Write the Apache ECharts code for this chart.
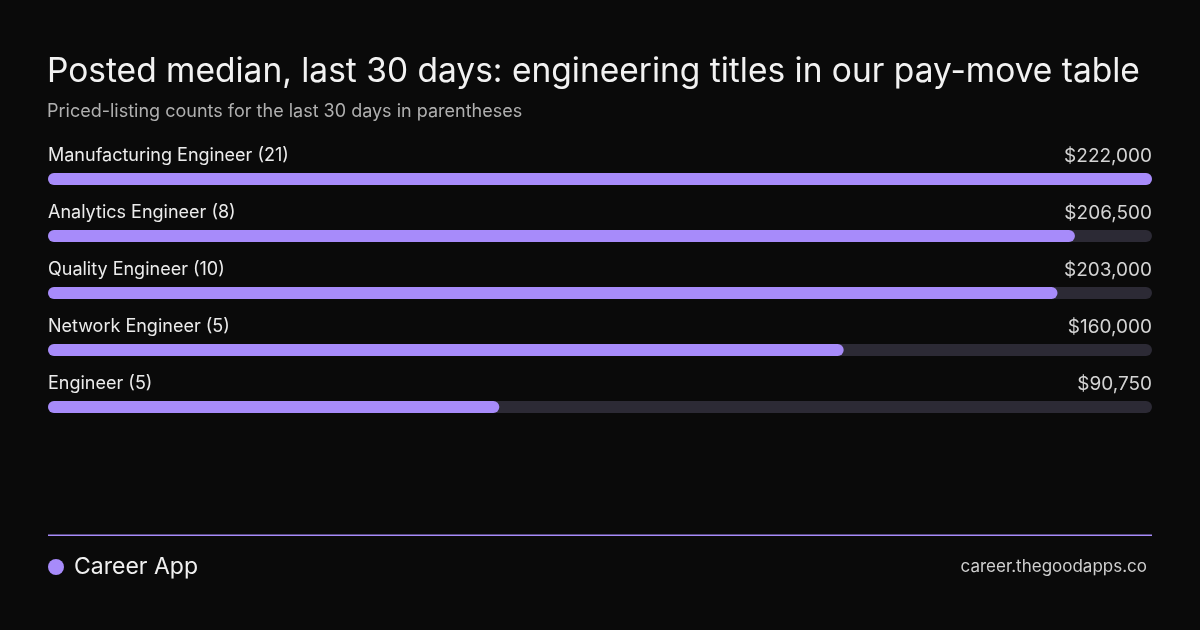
<!DOCTYPE html>
<html><head><meta charset="utf-8">
<script src="https://cdn.jsdelivr.net/npm/echarts@6/dist/echarts.min.js"></script>
<style>html,body{margin:0;padding:0;background:#0a0a0a;}#c{width:1200px;height:630px;}</style>
</head><body><div id="c"></div>
<script>
const titles = ["Manufacturing Engineer", "Analytics Engineer", "Quality Engineer", "Network Engineer", "Engineer"];
const counts = [21, 8, 10, 5, 5];
const medians = [222000, 206500, 203000, 160000, 90750];

const FONT = 'Inter, "Noto Sans", sans-serif';
const maxV = Math.max(...medians);
const fmt = v => '$' + v.toLocaleString('en-US');

const chart = echarts.init(document.getElementById('c'));
chart.setOption({
  backgroundColor: '#0a0a0a',
  animation: false,
  title: {
    text: 'Posted median, last 30 days: engineering titles in our pay-move table',
    subtext: 'Priced-listing counts for the last 30 days in parentheses',
    left: 42, top: 48, itemGap: 10,
    textStyle: { color: '#f2f2f2', fontFamily: FONT, fontSize: 33.5, fontWeight: 400, lineHeight: 38 },
    subtextStyle: { color: '#b0b0b0', fontFamily: FONT, fontSize: 18, lineHeight: 22 }
  },
  grid: { left: 48, right: 48, top: 150.5, height: 285 },
  xAxis: { type: 'value', min: 0, max: maxV, show: false },
  yAxis: { type: 'category', inverse: true, data: titles, show: false },
  series: [
    {
      type: 'bar', barWidth: 12, silent: true,
      data: titles.map(() => maxV),
      itemStyle: { color: '#2c2a35', borderRadius: 6 },
      label: {
        show: true, position: ['100%', -17], align: 'right', verticalAlign: 'middle',
        color: '#d4d4d4', fontFamily: FONT, fontSize: 19,
        formatter: p => fmt(medians[p.dataIndex])
      }
    },
    {
      type: 'bar', barWidth: 12, barGap: '-100%', silent: true,
      data: medians,
      itemStyle: { color: '#a78bfa', borderRadius: 6 },
      label: {
        show: true, position: [0, -17], align: 'left', verticalAlign: 'middle',
        color: '#ececec', fontFamily: FONT, fontSize: 18,
        formatter: p => titles[p.dataIndex] + ' (' + counts[p.dataIndex] + ')'
      }
    }
  ],
  graphic: [
    { type: 'rect', shape: { x: 48, y: 534.5, width: 1104, height: 1.5 }, style: { fill: '#a78bfa' } },
    { type: 'circle', shape: { cx: 56, cy: 567, r: 8 }, style: { fill: '#a78bfa' } },
    { type: 'text', x: 74, y: 567, style: { text: 'Career App', fill: '#f0f0f0', font: '400 23px ' + FONT, textVerticalAlign: 'middle', verticalAlign: 'middle' } },
    { type: 'text', x: 1147, y: 567, style: { text: 'career.thegoodapps.co', fill: '#cfcfcf', font: '400 17px ' + FONT, align: 'right', textAlign: 'right', verticalAlign: 'middle', textVerticalAlign: 'middle' } }
  ]
});
</script></body></html>
